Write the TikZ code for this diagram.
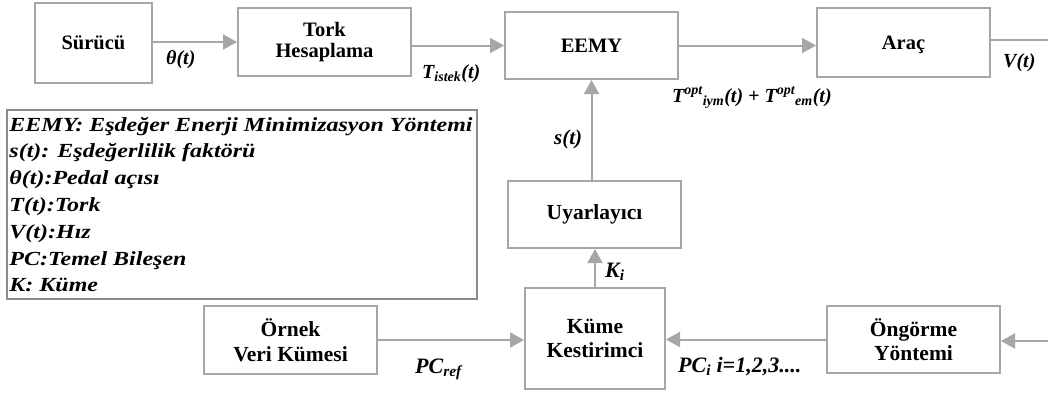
\documentclass[tikz,border=0pt]{standalone}
\usepackage{fontspec}
\setmainfont{Liberation Serif}
\newfontfamily\legendfont{Liberation Serif}[FakeStretch=1.2]
\usetikzlibrary{arrows.meta}

\definecolor{edgegray}{RGB}{166,166,166}
\definecolor{legendgray}{RGB}{140,140,140}

\tikzset{
  blk/.style={draw=edgegray, line width=2pt, align=center, inner sep=0pt,
    font=\bfseries\fontsize{20.5}{21.7}\selectfont},
  lowblk/.style={blk, font=\bfseries\fontsize{21.5}{24.5}\selectfont},
  arr/.style={draw=edgegray, line width=2pt, -{Triangle[length=14pt,width=15pt]}},
  wire/.style={draw=edgegray, line width=2pt},
  lbl/.style={inner sep=0pt, anchor=base west,
    font=\bfseries\itshape\fontsize{20}{24}\selectfont},
  lowlbl/.style={lbl, font=\bfseries\itshape\fontsize{22}{26}\selectfont},
  legendbox/.style={draw=legendgray, line width=1.5pt, inner sep=0pt},
  legendtxt/.style={inner sep=0pt, align=left, anchor=west,
    font=\legendfont\bfseries\itshape\fontsize{20}{26.8}\selectfont},
}

\begin{document}
\begin{tikzpicture}[x=1pt,y=-1pt]
\useasboundingbox (0,0) rectangle (1048,394);

% top row: driver, torque demand, ECMS, vehicle
\node[blk, minimum width=117pt, minimum height=80pt] (sur) at (93.5,43) {Sürücü};
\node[blk, minimum width=173pt, minimum height=68pt] (tork) at (324.5,42) {Tork\\Hesaplama};
\node[blk, minimum width=173pt, minimum height=67pt] (eemy) at (591.5,45.5) {EEMY};
\node[blk, minimum width=173pt, minimum height=69pt, text depth=0pt] (arac) at (903.5,42.5) {Araç};

% adaptation loop
\node[lowblk, minimum width=173pt, minimum height=67pt] (uyar) at (594.5,214.5) {Uyarlayıcı};
\node[lowblk, minimum width=140pt, minimum height=101pt] (kume) at (595,338.5) {Küme\\Kestirimci};
\node[lowblk, minimum width=173pt, minimum height=68pt] (ornek) at (290.5,340) {Örnek\\Veri Kümesi};
\node[lowblk, minimum width=173pt, minimum height=67pt] (ongor) at (913.5,339.5) {Öngörme\\Yöntemi};

% legend
\node[legendbox, minimum width=470pt, minimum height=189pt] (legend) at (242,204.5) {};
\node[legendtxt] (legendtext) at ([xshift=3pt]legend.west) {%
EEMY: Eşdeğer Enerji Minimizasyon Yöntemi\\
s(t): Eşdeğerlilik faktörü\\
θ(t):Pedal açısı\\
T(t):Tork\\
V(t):Hız\\
PC:Temel Bileşen\\
K: Küme};

% free ends at the picture border
\coordinate (vout) at (1048,40);
\coordinate (pin) at (1048,341);

% connectors
\draw[arr] (sur.east |- tork) -- (tork.west);
\draw[arr] (tork.east |- eemy) -- (eemy.west);
\draw[arr] (eemy.east) -- (arac.west |- eemy);
\draw[wire] (arac.east |- vout) -- (vout);
\draw[arr] (eemy.south |- uyar.north) -- (eemy.south);
\draw[arr] (kume.north) -- (kume.north |- uyar.south);
\draw[arr] (ornek.east) -- (kume.west |- ornek.east);
\draw[arr] (ongor.west) -- (kume.east |- ongor.west);
\draw[arr] (pin) -- (pin -| ongor.east);

% signal labels
\node[lbl] (theta) at (166,64) {θ(t)};
\node[lbl] (tistek) at (422,78) {T\textsubscript{istek}(t)};
\node[lbl] (topt) at (672,102) {T\textsuperscript{opt}\textsubscript{iym}(t) + T\textsuperscript{opt}\textsubscript{em}(t)};
\node[lbl] (vt) at (1003,67) {V(t)};
\node[lbl, font=\bfseries\itshape\fontsize{21}{25}\selectfont] (st) at (554,144) {s(t)};
\node[lowlbl] (ki) at (605,277) {K\textsubscript{i}};
\node[lowlbl] (pcref) at (415,373) {PC\textsubscript{ref}};
\node[lowlbl] (pci) at (678,372) {PC\textsubscript{i} i=1,2,3....};
\end{tikzpicture}
\end{document}
